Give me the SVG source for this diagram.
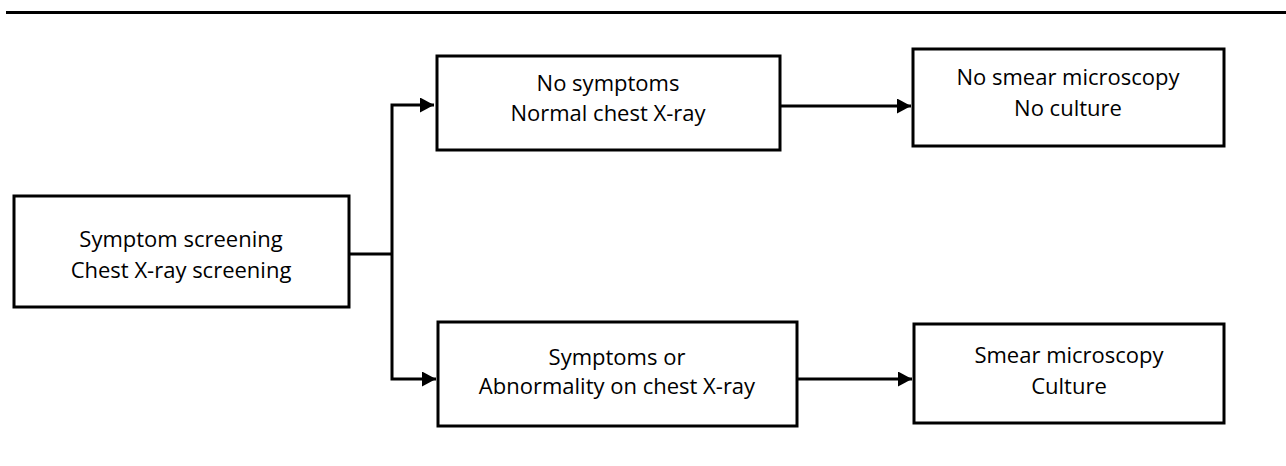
<svg xmlns="http://www.w3.org/2000/svg" width="1286" height="466" viewBox="0 0 1286 466">
<defs>
<marker id="ah" markerWidth="14" markerHeight="15" refX="14" refY="7.5" orient="auto" markerUnits="userSpaceOnUse">
<path d="M0,0 L14,7.5 L0,15 Z" fill="#000"/>
</marker>
<style>
.box{fill:#fff;stroke:#000;stroke-width:3}
.t{font-family:"Open Sans","Liberation Sans",sans-serif;font-size:22px;fill:#000;text-anchor:middle}
.c{fill:none;stroke:#000;stroke-width:3}
</style>
</defs>
<rect width="1286" height="466" fill="#fff"/>
<line x1="6" y1="12.5" x2="1286" y2="12.5" stroke="#000" stroke-width="3"/>
<g id="connectors">
<polyline class="c" points="349,254 392,254"/>
<polyline class="c" points="392,254 392,105 434,105" marker-end="url(#ah)"/>
<polyline class="c" points="392,254 392,379 436,379" marker-end="url(#ah)"/>
<polyline class="c" points="780,106 911,106" marker-end="url(#ah)"/>
<polyline class="c" points="797,379 912,379" marker-end="url(#ah)"/>
</g>
<g id="screening">
<rect class="box" x="14" y="196" width="335" height="111"/>
<text class="t" x="181" y="247">Symptom screening</text>
<text class="t" x="181" y="278">Chest X-ray screening</text>
</g>
<g id="normal">
<rect class="box" x="437" y="56" width="343" height="94"/>
<text class="t" x="608" y="91">No symptoms</text>
<text class="t" x="608" y="121">Normal chest X-ray</text>
</g>
<g id="no-test">
<rect class="box" x="913" y="49" width="311" height="97"/>
<text class="t" x="1068" y="85">No smear microscopy</text>
<text class="t" x="1068" y="116">No culture</text>
</g>
<g id="abnormal">
<rect class="box" x="438" y="322" width="359" height="104"/>
<text class="t" x="617" y="365">Symptoms or</text>
<text class="t" x="617" y="394">Abnormality on chest X-ray</text>
</g>
<g id="test">
<rect class="box" x="914" y="324" width="310" height="99"/>
<text class="t" x="1069" y="363">Smear microscopy</text>
<text class="t" x="1069" y="394">Culture</text>
</g>
</svg>
